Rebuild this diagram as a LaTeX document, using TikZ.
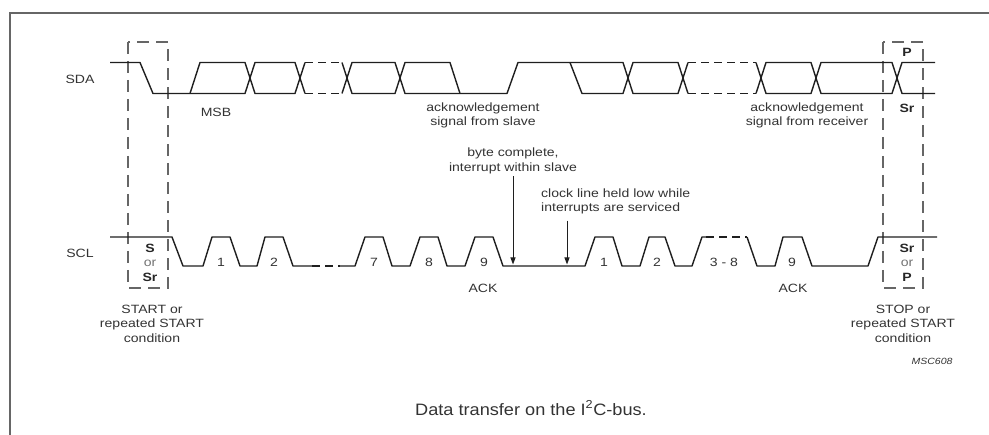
\documentclass[tikz,border=0pt]{standalone}
\usepackage{fontspec}
\setmainfont{Liberation Sans}[FakeStretch=1.17]
\newfontfamily\capfont{Liberation Sans}[FakeStretch=1.1]
\usetikzlibrary{arrows.meta}
\def\sH{62.5}
\def\sL{93.5}
\def\cH{237}
\def\cL{266}
\tikzset{
  x=1pt, y=-1pt,
  frame/.style={draw=black!60, line width=1.8pt},
  sig/.style={draw=black!88, line width=1.4pt, line join=round},
  dsig/.style={sig, dash pattern=on 8pt off 5pt},
  condbox/.style={draw=black!60, line width=1.3pt, dash pattern=on 12pt off 7pt},
  lbl/.style={font=\fontsize{12}{14.5}\selectfont, text=black!80, inner sep=0pt, align=center},
  bl/.style={font=\fontsize{12}{14.5}\selectfont\bfseries, text=black!85, inner sep=0pt},
  orl/.style={font=\fontsize{12}{14.5}\selectfont, text=black!55, inner sep=0pt},
  arr/.style={draw=black!88, line width=1pt, -{Triangle[length=7pt,width=5pt]}},
}
\begin{document}
\begin{tikzpicture}
\useasboundingbox (0,0) rectangle (989,435);
% frame
\draw[frame] (10,435) -- (10,13) -- (989,13);

% dashed condition boxes
\draw[condbox] (128,42) rectangle (168,288);
\draw[condbox] (883,42) rectangle (923,288);

% SDA
\draw[sig] (110,\sH)--(140,\sH)--(153,\sL)--(245,\sL)--(255,\sH)--(295,\sH)--(305,\sL);
\draw[sig] (190,\sL)--(200,\sH)--(245,\sH)--(255,\sL)--(295,\sL)--(305,\sH);
\draw[dsig] (305,\sH)--(342,\sH) (305,\sL)--(342,\sL);
\draw[sig] (342,\sH)--(352,\sL)--(395,\sL)--(405,\sH)--(450,\sH)--(460,\sL);
\draw[sig] (342,\sL)--(352,\sH)--(395,\sH)--(405,\sL)--(507,\sL)--(518,\sH)--(623,\sH)--(633,\sL)--(678,\sL)--(688,\sH);
\draw[sig] (570,\sH)--(582,\sL)--(623,\sL)--(633,\sH)--(678,\sH)--(688,\sL);
\draw[dsig] (688,\sH)--(756,\sH) (688,\sL)--(756,\sL);
\draw[sig] (756,\sH)--(766,\sL)--(811,\sL)--(821,\sH)--(892,\sH)--(902,\sL)--(935,\sL);
\draw[sig] (756,\sL)--(766,\sH)--(811,\sH)--(821,\sL)--(892,\sL)--(902,\sH)--(935,\sH);

% SCL
\draw[sig] (110,\cH)--(172,\cH)--(183,\cL)--(203,\cL)--(212,\cH)--(230,\cH)--(240,\cL)--(257,\cL)--(265,\cH)--(283,\cH)--(293,\cL)--(312,\cL);
\draw[dsig] (312,\cL)--(340,\cL);
\draw[sig] (340,\cL)--(355,\cL)--(365,\cH)--(383,\cH)--(392,\cL)--(410,\cL)--(420,\cH)--(438,\cH)--(447,\cL)--(465,\cL)--(475,\cH)--(493,\cH)--(503,\cL)--(585,\cL)--(595,\cH)--(613,\cH)--(622,\cL)--(640,\cL)--(649,\cH)--(665,\cH)--(675,\cL)--(692,\cL)--(702,\cH)--(706,\cH);
\draw[dsig] (706,\cH)--(747,\cH);
\draw[sig] (747,\cH)--(757,\cL)--(775,\cL)--(783,\cH)--(802,\cH)--(812,\cL)--(868,\cL)--(878,\cH)--(937,\cH);

% signal names
\node[lbl] (sdalbl) at (80,79) {SDA};
\node[lbl] (scllbl) at (80,253) {SCL};

% box labels
\node[bl] (pTop) at (907,52) {P};
\node[bl] (srTop) at (907,108) {Sr};
\node[bl] (sL) at (150,248) {S};
\node[orl] (orL) at (150,263) {or};
\node[bl] (srL) at (150,277) {Sr};
\node[bl] (srR) at (907,248) {Sr};
\node[orl] (orR) at (907,263) {or};
\node[bl] (pR) at (907,277) {P};

% SDA texts
\node[lbl] (msb) at (216,112) {MSB};
\node[lbl] (ackslave) at (483,115.5) {acknowledgement\\signal from slave};
\node[lbl] (ackrecv) at (807,115.5) {acknowledgement\\signal from receiver};

% pulse numbers
\node[lbl] (n1) at (221,262) {1};
\node[lbl] (n2) at (274,262) {2};
\node[lbl] (n7) at (374,262) {7};
\node[lbl] (n8) at (429,262) {8};
\node[lbl] (n9) at (484,262) {9};
\node[lbl] (m1) at (604,262) {1};
\node[lbl] (m2) at (657,262) {2};
\node[lbl] (m38) at (724,262) {3 - 8};
\node[lbl] (m9) at (792,262) {9};
\node[lbl] (ackA) at (483,288) {ACK};
\node[lbl] (ackB) at (793,288) {ACK};

% annotations with arrows
\node[lbl] (bytec) at (513,161) {byte complete,\\interrupt within slave};
\coordinate (bcend) at (513,264.5);
\draw[arr, shorten <=2pt] (bytec.south) -- (bcend);
\node[lbl, anchor=west, align=left] (clockh) at (541,201.5) {clock line held low while\\interrupts are serviced};
\coordinate (clkend) at (567,264.5);
\draw[arr, shorten <=6pt] (clockh.south west -| clkend) -- (clkend);

% conditions
\node[lbl] (startc) at (152,323.5) {START or\\repeated START\\condition};
\node[lbl] (stopc) at (903,323.5) {STOP or\\repeated START\\condition};
\node[lbl, font=\fontsize{9}{10}\selectfont\itshape] (msc) at (932,361) {MSC608};

% caption
\node[lbl, font=\capfont\fontsize{16.5}{19}\selectfont] (caption) at (531,408) {Data transfer on the I\textsuperscript{2}C-bus.};
\end{tikzpicture}
\end{document}
